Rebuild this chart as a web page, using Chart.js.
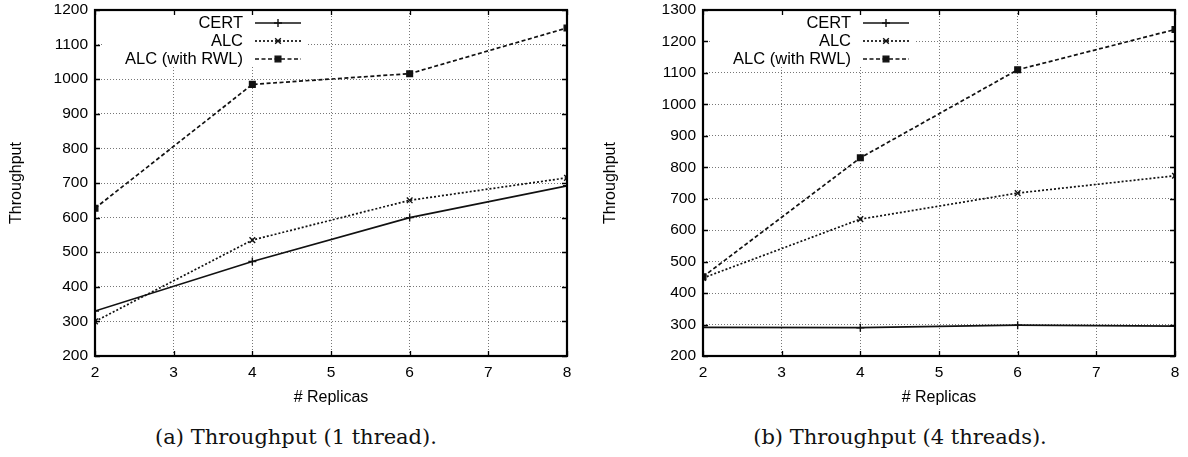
<!DOCTYPE html>
<html>
<head>
<meta charset="utf-8">
<script src="https://cdn.jsdelivr.net/npm/chart.js@4.4.1/dist/chart.umd.min.js"></script>
<style>
  html, body { margin: 0; padding: 0; background: #fff; }
  body { width: 1188px; height: 457px; position: relative; overflow: hidden; }
  .panel { position: absolute; top: 0; width: 594px; height: 410px; }
  .caption {
    position: absolute; top: 424px; line-height: 26px;
    font-family: "DejaVu Serif", "Liberation Serif", serif; font-size: 21px;
    white-space: nowrap; transform: translateX(-50%); color: #111;
  }
</style>
</head>
<body>
<div class="panel" style="left:0"><canvas id="chartA" width="594" height="410"></canvas></div>
<div class="panel" style="left:594px"><canvas id="chartB" width="594" height="410"></canvas></div>
<div class="caption" style="left:296px">(a) Throughput (1 thread).</div>
<div class="caption" style="left:900px">(b) Throughput (4 threads).</div>
<script>
// number of replicas on the x axis
const replicas = [2, 4, 6, 8];
const seriesNames = ['CERT', 'ALC', 'ALC (with RWL)'];

// throughput, 1 thread
const certOneThread = [330, 473, 600, 692];
const alcOneThread = [300, 535, 650, 715];
const rwlOneThread = [627, 985, 1016, 1148];

// throughput, 4 threads
const certFourThreads = [291, 290, 298, 295];
const alcFourThreads = [448, 635, 718, 773];
const rwlFourThreads = [452, 830, 1110, 1238];

// axis ranges
const xRange = [2, 8];
const yRangeOneThread = [200, 1200];
const yRangeFourThreads = [200, 1300];

const SANS = '"Liberation Sans", Arial, Helvetica, sans-serif';

// line / marker look of each series, gnuplot style
const seriesStyles = [
  { borderDash: [], pointStyle: 'cross', borderWidth: 1.7 },
  { borderDash: [2, 2], pointStyle: 'crossRot', borderWidth: 1.7 },
  { borderDash: [4, 2.5], pointStyle: 'rect', borderWidth: 1.7 },
];

function makeDatasets(seriesList) {
  return seriesList.map((values, i) => ({
    label: seriesNames[i],
    data: values.map((v, j) => ({ x: replicas[j], y: v })),
    borderColor: '#111',
    backgroundColor: '#111',
    borderWidth: seriesStyles[i].borderWidth,
    borderDash: seriesStyles[i].borderDash,
    pointStyle: seriesStyles[i].pointStyle,
    pointRadius: 4,
    pointBorderWidth: 1.4,
    pointBorderColor: '#111',
    pointBackgroundColor: '#111',
    tension: 0,
    fill: false,
  }));
}

// key inside the plot (with white backing) plus the mirrored frame and inward ticks
const gnuplotLook = {
  id: 'gnuplotLook',
  beforeDatasetsDraw(chart) {
    const { ctx, chartArea: a } = chart;
    ctx.save();
    ctx.fillStyle = '#fff';
    ctx.fillRect(a.left + 8, a.top + 1, 205, 55);
    ctx.font = '16.5px ' + SANS;
    ctx.textAlign = 'right';
    ctx.textBaseline = 'middle';
    chart.data.datasets.forEach((ds, i) => {
      const y = a.top + 13 + i * 18;
      ctx.fillStyle = '#000';
      ctx.fillText(ds.label, a.left + 148, y);
      ctx.strokeStyle = ds.borderColor;
      ctx.lineWidth = ds.borderWidth;
      ctx.setLineDash(ds.borderDash);
      ctx.beginPath();
      ctx.moveTo(a.left + 160, y);
      ctx.lineTo(a.left + 206, y);
      ctx.stroke();
      ctx.setLineDash([]);
      ctx.fillStyle = '#111';
      ctx.lineWidth = ds.pointBorderWidth;
      Chart.helpers.drawPoint(ctx, {
        pointStyle: ds.pointStyle, radius: ds.pointRadius,
        borderWidth: ds.pointBorderWidth, rotation: 0,
      }, a.left + 183, y);
    });
    ctx.restore();
  },
  afterDatasetsDraw(chart) {
    const { ctx, chartArea: a, scales } = chart;
    const tick = 5;
    ctx.save();
    ctx.strokeStyle = '#000';
    ctx.lineWidth = 1.3;
    ctx.beginPath();
    scales.x.ticks.forEach(t => {
      const px = Math.round(scales.x.getPixelForValue(t.value)) + 0.5;
      ctx.moveTo(px, a.bottom); ctx.lineTo(px, a.bottom - tick);
      ctx.moveTo(px, a.top); ctx.lineTo(px, a.top + tick);
    });
    scales.y.ticks.forEach(t => {
      const py = Math.round(scales.y.getPixelForValue(t.value)) + 0.5;
      ctx.moveTo(a.left, py); ctx.lineTo(a.left + tick, py);
      ctx.moveTo(a.right, py); ctx.lineTo(a.right - tick, py);
    });
    ctx.stroke();
    ctx.lineWidth = 2.2;
    ctx.strokeRect(a.left, a.top, a.right - a.left, a.bottom - a.top);
    ctx.restore();
  },
};

function makeChart(canvasId, seriesList, yRange, yAxisWidth, rightPad) {
  return new Chart(document.getElementById(canvasId), {
    type: 'line',
    data: { datasets: makeDatasets(seriesList) },
    plugins: [gnuplotLook],
    options: {
      responsive: false,
      animation: false,
      devicePixelRatio: 1,
      layout: { padding: { left: 0, top: 10, right: rightPad, bottom: 0 } },
      plugins: { legend: { display: false }, tooltip: { enabled: false } },
      scales: {
        x: {
          type: 'linear',
          min: xRange[0], max: xRange[1],
          ticks: { stepSize: 1, padding: 7, color: '#000', font: { family: SANS, size: 15.5 } },
          grid: { color: '#777', lineWidth: 1, drawTicks: false },
          border: { display: false, dash: [1, 2] },
          title: { display: true, text: '# Replicas', color: '#000', font: { family: SANS, size: 16 }, padding: { top: 0, bottom: 2.4 } },
          afterFit(scale) {
            scale.height = 54;
            scale.paddingLeft = 0; scale.paddingRight = 0;
          },
        },
        y: {
          min: yRange[0], max: yRange[1],
          ticks: {
            stepSize: 100, padding: 7, color: '#000', font: { family: SANS, size: 15.5 },
            callback: v => String(v),
          },
          grid: { color: '#777', lineWidth: 1, drawTicks: false },
          border: { display: false, dash: [1, 2] },
          title: { display: true, text: 'Throughput', color: '#000', font: { family: SANS, size: 16 }, padding: { top: 7, bottom: 0 } },
          afterFit(scale) {
            scale.width = yAxisWidth;
            scale.paddingTop = 0; scale.paddingBottom = 0;
          },
        },
      },
    },
  });
}

makeChart('chartA', [certOneThread, alcOneThread, rwlOneThread], yRangeOneThread, 95, 27);
makeChart('chartB', [certFourThreads, alcFourThreads, rwlFourThreads], yRangeFourThreads, 109, 13);
</script>
</body>
</html>
